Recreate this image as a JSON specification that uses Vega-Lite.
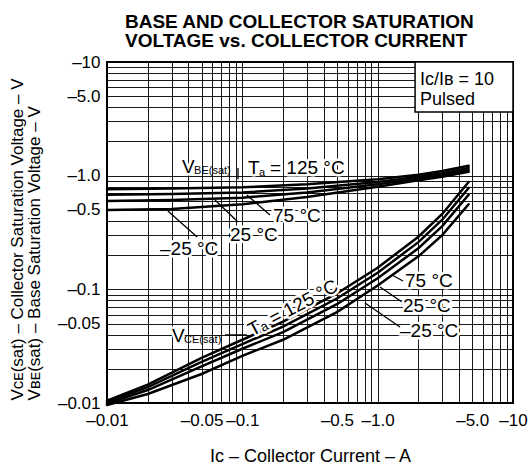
{
  "$schema": "https://vega.github.io/schema/vega-lite/v6.json",
  "width": 406,
  "height": 341,
  "autosize": {"type": "none"},
  "padding": {"left": 107, "top": 62, "right": 17, "bottom": 67},
  "background": "white",
  "title": {
    "text": ["BASE AND COLLECTOR SATURATION", "VOLTAGE vs. COLLECTOR CURRENT"],
    "font": "Liberation Sans",
    "fontSize": 19,
    "fontWeight": "bold",
    "lineHeight": 19,
    "color": "black",
    "anchor": "start",
    "frame": "group",
    "dx": 18,
    "offset": 2
  },
  "config": {
    "view": {"stroke": "black", "strokeWidth": 2},
    "font": "Liberation Sans"
  },
  "datasets": {
    "curves": [
      {"x": 0.01, "v": 0.76, "s": "B125"}, {"x": 0.03, "v": 0.77, "s": "B125"}, {"x": 0.1, "v": 0.79, "s": "B125"}, {"x": 0.3, "v": 0.84, "s": "B125"}, {"x": 1, "v": 0.93, "s": "B125"}, {"x": 2, "v": 1.02, "s": "B125"}, {"x": 3, "v": 1.1, "s": "B125"}, {"x": 4.7, "v": 1.22, "s": "B125"},
      {"x": 0.01, "v": 0.68, "s": "B75"}, {"x": 0.03, "v": 0.69, "s": "B75"}, {"x": 0.1, "v": 0.71, "s": "B75"}, {"x": 0.3, "v": 0.77, "s": "B75"}, {"x": 1, "v": 0.88, "s": "B75"}, {"x": 2, "v": 0.98, "s": "B75"}, {"x": 3, "v": 1.05, "s": "B75"}, {"x": 4.7, "v": 1.17, "s": "B75"},
      {"x": 0.01, "v": 0.6, "s": "B25"}, {"x": 0.03, "v": 0.61, "s": "B25"}, {"x": 0.1, "v": 0.64, "s": "B25"}, {"x": 0.3, "v": 0.71, "s": "B25"}, {"x": 1, "v": 0.84, "s": "B25"}, {"x": 2, "v": 0.94, "s": "B25"}, {"x": 3, "v": 1.01, "s": "B25"}, {"x": 4.7, "v": 1.12, "s": "B25"},
      {"x": 0.01, "v": 0.5, "s": "Bm25"}, {"x": 0.03, "v": 0.51, "s": "Bm25"}, {"x": 0.1, "v": 0.56, "s": "Bm25"}, {"x": 0.3, "v": 0.65, "s": "Bm25"}, {"x": 1, "v": 0.8, "s": "Bm25"}, {"x": 2, "v": 0.91, "s": "Bm25"}, {"x": 3, "v": 0.98, "s": "Bm25"}, {"x": 4.7, "v": 1.08, "s": "Bm25"},
      {"x": 0.01, "v": 0.0105, "s": "C125"}, {"x": 0.02, "v": 0.0145, "s": "C125"}, {"x": 0.05, "v": 0.025, "s": "C125"}, {"x": 0.1, "v": 0.036, "s": "C125"}, {"x": 0.2, "v": 0.052, "s": "C125"}, {"x": 0.5, "v": 0.092, "s": "C125"}, {"x": 1, "v": 0.155, "s": "C125"}, {"x": 2, "v": 0.29, "s": "C125"}, {"x": 3, "v": 0.46, "s": "C125"}, {"x": 4.7, "v": 0.88, "s": "C125"},
      {"x": 0.01, "v": 0.0102, "s": "C75"}, {"x": 0.02, "v": 0.0138, "s": "C75"}, {"x": 0.05, "v": 0.023, "s": "C75"}, {"x": 0.1, "v": 0.033, "s": "C75"}, {"x": 0.2, "v": 0.047, "s": "C75"}, {"x": 0.5, "v": 0.083, "s": "C75"}, {"x": 1, "v": 0.14, "s": "C75"}, {"x": 2, "v": 0.26, "s": "C75"}, {"x": 3, "v": 0.41, "s": "C75"}, {"x": 4.7, "v": 0.78, "s": "C75"},
      {"x": 0.01, "v": 0.0099, "s": "C25"}, {"x": 0.02, "v": 0.013, "s": "C25"}, {"x": 0.05, "v": 0.021, "s": "C25"}, {"x": 0.1, "v": 0.03, "s": "C25"}, {"x": 0.2, "v": 0.042, "s": "C25"}, {"x": 0.5, "v": 0.074, "s": "C25"}, {"x": 1, "v": 0.125, "s": "C25"}, {"x": 2, "v": 0.23, "s": "C25"}, {"x": 3, "v": 0.36, "s": "C25"}, {"x": 4.7, "v": 0.68, "s": "C25"},
      {"x": 0.01, "v": 0.0096, "s": "Cm25"}, {"x": 0.02, "v": 0.012, "s": "Cm25"}, {"x": 0.05, "v": 0.018, "s": "Cm25"}, {"x": 0.1, "v": 0.026, "s": "Cm25"}, {"x": 0.2, "v": 0.036, "s": "Cm25"}, {"x": 0.5, "v": 0.063, "s": "Cm25"}, {"x": 1, "v": 0.108, "s": "Cm25"}, {"x": 2, "v": 0.195, "s": "Cm25"}, {"x": 3, "v": 0.3, "s": "Cm25"}, {"x": 4.7, "v": 0.56, "s": "Cm25"}
    ],
    "labels": [
      {"x": 0.0358, "v": 1.056, "t": "V", "k": "main"},
      {"x": 0.11, "v": 1.034, "t": "T", "k": "main"},
      {"x": 0.16, "v": 1.034, "t": "= 125 °C", "k": "main"},
      {"x": 0.1685, "v": 0.391, "t": "75 °C", "k": "main"},
      {"x": 0.0811, "v": 0.2663, "t": "25 °C", "k": "main"},
      {"x": 0.02464, "v": 0.2004, "t": "–25 °C", "k": "main"},
      {"x": 0.0302, "v": 0.0344, "t": "V", "k": "main"},
      {"x": 1.592, "v": 0.1048, "t": "75 °C", "k": "main"},
      {"x": 1.539, "v": 0.0632, "t": "25 °C", "k": "main"},
      {"x": 1.463, "v": 0.0381, "t": "–25 °C", "k": "main"},
      {"x": 2.056, "v": 6.3, "t": "Iᴄ/Iʙ = 10", "k": "box"},
      {"x": 2.056, "v": 4.2, "t": "Pulsed", "k": "box"},
      {"x": 0.044, "v": 1.034, "t": "BE(sat)", "k": "sub"},
      {"x": 0.1328, "v": 0.993, "t": "a", "k": "sub"},
      {"x": 0.0371, "v": 0.0337, "t": "CE(sat)", "k": "sub"},
      {"x": 0.2367, "v": 0.0685, "t": "Tₐ = 125 °C", "k": "rot"}
    ],
    "leaders": [
      {"x": 0.0463, "v": 0.2887, "x2": 0.0282, "v2": 0.489},
      {"x": 0.0929, "v": 0.391, "x2": 0.0628, "v2": 0.611},
      {"x": 0.16, "v": 0.451, "x2": 0.108, "v2": 0.676},
      {"x": 0.0929, "v": 1.168, "x2": 0.0929, "v2": 0.93},
      {"x": 0.0745, "v": 0.0397, "x2": 0.108, "v2": 0.0397},
      {"x": 1.276, "v": 0.1337, "x2": 1.539, "v2": 0.1184},
      {"x": 1.041, "v": 0.1048, "x2": 1.513, "v2": 0.0774},
      {"x": 0.806, "v": 0.0758, "x2": 1.463, "v2": 0.0466}
    ],
    "box": [{"x": 1.89, "v": 3.63, "x2": 10, "v2": 10}]
  },
  "encoding": {
    "x": {
      "field": "x",
      "type": "quantitative",
      "scale": {"type": "log", "domain": [0.01, 10], "nice": false},
      "axis": {
        "title": "Iᴄ – Collector Current – A",
        "values": [0.01, 0.02, 0.03, 0.04, 0.05, 0.06, 0.07, 0.08, 0.09, 0.1, 0.2, 0.3, 0.4, 0.5, 0.6, 0.7, 0.8, 0.9, 1, 2, 3, 4, 5, 6, 7, 8, 9, 10],
        "labelExpr": "indexof([0.01,0.05,0.1,0.5,1,5,10], datum.value) >= 0 ? '–' + ((datum.value == 1 || datum.value == 5) ? format(datum.value, '.1f') : '' + datum.value) : ''",
        "grid": true,
        "gridColor": "black",
        "gridOpacity": 0.9,
        "gridWidth": 1,
        "ticks": false,
        "tickSize": 0,
        "domain": false,
        "labelFont": "Liberation Sans",
        "labelFontSize": 17,
        "labelColor": "black",
        "labelPadding": 9,
        "labelOverlap": false,
        "labelFlush": false,
        "labelBound": false,
        "titleFont": "Liberation Sans",
        "titleFontSize": 18,
        "titleFontWeight": "normal",
        "titleColor": "black",
        "titleY": 58,
        "titleBaseline": "alphabetic"
      }
    },
    "y": {
      "field": "v",
      "type": "quantitative",
      "scale": {"type": "log", "domain": [0.01, 10], "nice": false},
      "axis": {
        "title": ["Vᴄᴇ(sat) – Collector Saturation Voltage – V", "Vʙᴇ(sat) – Base Saturation Voltage – V"],
        "values": [0.01, 0.02, 0.03, 0.04, 0.05, 0.06, 0.07, 0.08, 0.09, 0.1, 0.2, 0.3, 0.4, 0.5, 0.6, 0.7, 0.8, 0.9, 1, 2, 3, 4, 5, 6, 7, 8, 9, 10],
        "labelExpr": "indexof([0.01,0.05,0.1,0.5,1,5,10], datum.value) >= 0 ? '–' + ((datum.value == 1 || datum.value == 5) ? format(datum.value, '.1f') : '' + datum.value) : ''",
        "grid": true,
        "gridColor": "black",
        "gridOpacity": 0.9,
        "gridWidth": 1,
        "ticks": false,
        "tickSize": 0,
        "domain": false,
        "labelFont": "Liberation Sans",
        "labelFontSize": 17,
        "labelColor": "black",
        "labelPadding": 7,
        "labelOverlap": false,
        "labelBound": false,
        "titleFont": "Liberation Sans",
        "titleFontSize": 17,
        "titleFontWeight": "normal",
        "titleColor": "black",
        "titleLineHeight": 17,
        "titleAngle": -90,
        "titleX": -98,
        "titleY": 338,
        "titleAlign": "left",
        "titleBaseline": "top"
      }
    }
  },
  "layer": [
    {
      "data": {"name": "box"},
      "mark": {"type": "rect", "fill": "white", "stroke": "black", "strokeWidth": 1.5},
      "encoding": {"x2": {"field": "x2"}, "y2": {"field": "v2"}}
    },
    {
      "data": {"name": "curves"},
      "mark": {"type": "line", "color": "black", "strokeCap": "round"},
      "encoding": {
        "detail": {"field": "s", "type": "nominal"},
        "strokeWidth": {
          "field": "s",
          "type": "nominal",
          "scale": {"domain": ["B125", "B75", "B25", "Bm25", "C125", "C75", "C25", "Cm25"], "range": [2.5, 2.5, 2.5, 2.5, 3.2, 2, 2, 2]},
          "legend": null
        }
      }
    },
    {
      "data": {"name": "leaders"},
      "mark": {"type": "rule", "color": "black", "strokeWidth": 1.3},
      "encoding": {"x2": {"field": "x2"}, "y2": {"field": "v2"}}
    },
    {
      "data": {"name": "labels"},
      "transform": [{"filter": "datum.k == 'main'"}],
      "mark": {"type": "text", "align": "left", "baseline": "alphabetic", "fontSize": 19, "font": "Liberation Sans", "fill": "white", "stroke": "white", "strokeWidth": 5, "strokeJoin": "round"},
      "encoding": {"text": {"field": "t"}}
    },
    {
      "data": {"name": "labels"},
      "transform": [{"filter": "datum.k == 'main'"}],
      "mark": {"type": "text", "align": "left", "baseline": "alphabetic", "fontSize": 19, "font": "Liberation Sans", "color": "black"},
      "encoding": {"text": {"field": "t"}}
    },
    {
      "data": {"name": "labels"},
      "transform": [{"filter": "datum.k == 'box'"}],
      "mark": {"type": "text", "align": "left", "baseline": "alphabetic", "fontSize": 18, "font": "Liberation Sans", "color": "black"},
      "encoding": {"text": {"field": "t"}}
    },
    {
      "data": {"name": "labels"},
      "transform": [{"filter": "datum.k == 'sub'"}],
      "mark": {"type": "text", "align": "left", "baseline": "alphabetic", "fontSize": 11, "font": "Liberation Sans", "color": "black"},
      "encoding": {"text": {"field": "t"}}
    },
    {
      "data": {"name": "labels"},
      "transform": [{"filter": "datum.k == 'rot'"}],
      "mark": {"type": "text", "align": "center", "baseline": "middle", "angle": -28, "fontSize": 19, "font": "Liberation Sans", "fill": "white", "stroke": "white", "strokeWidth": 5, "strokeJoin": "round"},
      "encoding": {"text": {"field": "t"}}
    },
    {
      "data": {"name": "labels"},
      "transform": [{"filter": "datum.k == 'rot'"}],
      "mark": {"type": "text", "align": "center", "baseline": "middle", "angle": -28, "fontSize": 19, "font": "Liberation Sans", "color": "black"},
      "encoding": {"text": {"field": "t"}}
    }
  ]
}
